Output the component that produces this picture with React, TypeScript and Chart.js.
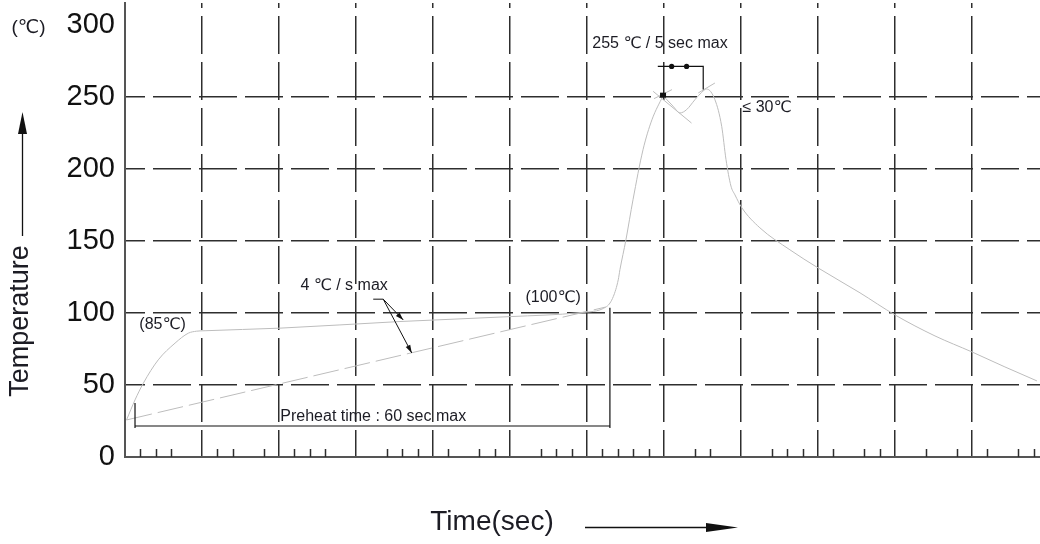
import React, { useEffect, useRef } from 'react';
import { Chart, registerables } from 'chart.js';

Chart.register(...registerables);

// ---- data (time in chart units: 5 units per major grid division) ----
const yTickValues = [0, 50, 100, 150, 200, 250, 300];
const xMajorTicks = [0, 5, 10, 15, 20, 25, 30, 35, 40, 45, 50, 55];
const xMinorTicks = [1, 2, 3, 6, 7, 9, 11, 12, 13, 17, 18, 19, 21, 23, 24, 27, 28, 29, 31, 32, 33, 34, 37, 38, 42, 43, 44, 46, 48, 49, 52, 54, 56, 58, 59];

// Reflow profile: preheat + ramp to first 250 point
const riseTime = [0.1, 0.65, 1.19, 2.16, 3.25, 4.11, 4.65, 5.2, 10.06, 17.86, 25.0, 29.55, 31.28, 31.71, 32.03, 32.14, 32.53, 32.99, 33.64, 34.22, 34.94];
const riseTemp = [25.7, 39.6, 51.2, 67.4, 79.0, 85.9, 87.3, 87.6, 89.4, 94.0, 97.4, 100.2, 104.4, 111.3, 122.9, 129.9, 150.7, 178.5, 213.2, 234.0, 250.7];
// Peak dip, peak and cooling
const coolTime = [34.94, 35.6, 36.04, 36.47, 37.01, 37.45, 37.77, 38.31, 38.75, 39.03, 39.35, 39.61, 40.06, 41.23, 43.18, 45.0, 47.73, 50.0, 52.6, 55.0, 57.14, 59.22];
const coolTemp = [250.7, 243.3, 238.7, 241.0, 247.9, 253.0, 255.3, 247.9, 229.4, 206.3, 188.0, 181.9, 172.9, 159.0, 143.75, 131.25, 113.9, 98.6, 84.0, 72.9, 62.5, 52.8];
// 4 °C/s max slope line
const slopeTime = [0.1, 31.2];
const slopeTemp = [25.7, 104.0];
// tangent guide lines near the peak
const tangentA = [{ x: 34.3, y: 253.7 }, { x: 36.79, y: 231.7 }];
const tangentB = [{ x: 34.35, y: 248.6 }, { x: 35.52, y: 254.9 }];
const tangentC = [{ x: 37.23, y: 252.6 }, { x: 38.31, y: 259.5 }];

// annotation anchors (data units)
const peakDot = { x: 34.94, y: 250.7 };
const peakBracket = { x0: 34.6, x1: 37.55, y: 271, yEnd: 254.9, dots: [35.5, 36.47] };
const preheatBracket = { x0: 0.65, x1: 31.49, y: 21.5, leftTop: 37.5, rightTop: 103.5, bottom: 20.1 };
const slopeLeader = { from: { x: 16.12, y: 109.5 }, knee: { x: 16.77, y: 109.5 }, tips: [{ x: 18.07, y: 95.1 }, { x: 18.62, y: 72.2 }] };
const labels = [
  { text: '4 \u2103 / s max', x: 14.23, y: 118.75 },
  { text: '(85\u2103)', x: 2.44, y: 91.7 },
  { text: '(100\u2103)', x: 27.8, y: 110.4 },
  { text: 'Preheat time : 60 sec max', x: 16.12, y: 28 },
  { text: '255 \u2103 / 5 sec max', x: 34.74, y: 286.8 },
  { text: '\u2264 30\u2103', x: 41.69, y: 242.4 },
];

const zip = (xs: number[], ys: number[]) => xs.map((x, i) => ({ x, y: ys[i] }));

const FONT = "'Liberation Sans', Arial, 'DejaVu Sans', sans-serif";
const TEXT = '#1c1c24';
const GRID = '#2e2e2e';
const CURVE = '#bdbdbd';

function arrowHead(ctx: CanvasRenderingContext2D, fx: number, fy: number, tx: number, ty: number, len: number, half: number) {
  const a = Math.atan2(ty - fy, tx - fx);
  const bx = tx - Math.cos(a) * len;
  const by = ty - Math.sin(a) * len;
  ctx.beginPath();
  ctx.moveTo(tx, ty);
  ctx.lineTo(bx + Math.sin(a) * half, by - Math.cos(a) * half);
  ctx.lineTo(bx - Math.sin(a) * half, by + Math.cos(a) * half);
  ctx.closePath();
  ctx.fill();
}

const overlay = {
  id: 'overlay',
  afterDraw(chart: any) {
    const { ctx, chartArea } = chart;
    const xs = chart.scales.x;
    const ys = chart.scales.y;
    const px = (v: number) => xs.getPixelForValue(v);
    const py = (v: number) => ys.getPixelForValue(v);
    ctx.save();

    // minor ticks on time axis
    ctx.strokeStyle = GRID;
    ctx.lineWidth = 1.5;
    ctx.setLineDash([]);
    xMinorTicks.forEach((t) => {
      const X = Math.round(px(t)) + 0.5;
      ctx.beginPath();
      ctx.moveTo(X, chartArea.bottom);
      ctx.lineTo(X, chartArea.bottom - 8);
      ctx.stroke();
    });

    // black annotation lines
    ctx.strokeStyle = '#111';
    ctx.fillStyle = '#111';
    ctx.lineWidth = 1.2;
    // preheat bracket
    const pb = preheatBracket;
    ctx.beginPath();
    ctx.moveTo(px(pb.x0), py(pb.leftTop));
    ctx.lineTo(px(pb.x0), py(pb.bottom));
    ctx.moveTo(px(pb.x0), py(pb.y));
    ctx.lineTo(px(pb.x1), py(pb.y));
    ctx.moveTo(px(pb.x1), py(pb.rightTop));
    ctx.lineTo(px(pb.x1), py(pb.bottom));
    ctx.stroke();

    // peak bracket
    const kb = peakBracket;
    ctx.beginPath();
    ctx.moveTo(px(kb.x0), py(kb.y));
    ctx.lineTo(px(kb.x1), py(kb.y));
    ctx.lineTo(px(kb.x1), py(kb.yEnd));
    ctx.stroke();
    kb.dots.forEach((d) => {
      ctx.beginPath();
      ctx.arc(px(d), py(kb.y), 2.6, 0, Math.PI * 2);
      ctx.fill();
    });
    // peak dot
    ctx.fillRect(px(peakDot.x) - 3, py(peakDot.y) - 3, 6, 5);

    // slope leader arrows
    const sl = slopeLeader;
    ctx.lineWidth = 1;
    ctx.beginPath();
    ctx.moveTo(px(sl.from.x), py(sl.from.y));
    ctx.lineTo(px(sl.knee.x), py(sl.knee.y));
    sl.tips.forEach((t) => {
      ctx.moveTo(px(sl.knee.x), py(sl.knee.y));
      ctx.lineTo(px(t.x), py(t.y));
    });
    ctx.stroke();
    sl.tips.forEach((t) => arrowHead(ctx, px(sl.knee.x), py(sl.knee.y), px(t.x), py(t.y), 8, 2.5));

    // annotation texts
    ctx.fillStyle = TEXT;
    ctx.font = `16px ${FONT}`;
    ctx.textAlign = 'center';
    ctx.textBaseline = 'middle';
    labels.forEach((l) => ctx.fillText(l.text, px(l.x), py(l.y)));

    // axis titles and arrows
    ctx.font = `19px ${FONT}`;
    ctx.fillText('(\u2103)', 28.5, 28);

    ctx.font = `28px ${FONT}`;
    ctx.fillText('Time(sec)', 492, 522);
    ctx.strokeStyle = '#111';
    ctx.fillStyle = '#111';
    ctx.lineWidth = 1.3;
    ctx.beginPath();
    ctx.moveTo(585, 527.5);
    ctx.lineTo(712, 527.5);
    ctx.stroke();
    arrowHead(ctx, 585, 527.5, 738, 527.5, 32, 4.5);

    ctx.save();
    ctx.translate(21, 321);
    ctx.rotate(-Math.PI / 2);
    ctx.fillStyle = TEXT;
    ctx.font = `27px ${FONT}`;
    ctx.fillText('Temperature', 0, 0);
    ctx.restore();
    ctx.beginPath();
    ctx.moveTo(22.5, 236);
    ctx.lineTo(22.5, 130);
    ctx.stroke();
    arrowHead(ctx, 22.5, 236, 22.5, 112, 22, 4.5);

    ctx.restore();
  },
};

export default function App() {
  const ref = useRef<HTMLCanvasElement | null>(null);
  useEffect(() => {
    document.body.style.margin = '0';
    const canvas = ref.current;
    if (!canvas) return;
    const thin = { type: 'line' as const, borderColor: CURVE, borderWidth: 1, pointRadius: 0, fill: false };
    const chart = new Chart(canvas, {
      type: 'line',
      data: {
        datasets: [
          { ...thin, label: 'rise', data: zip(riseTime, riseTemp), cubicInterpolationMode: 'monotone' },
          { ...thin, label: 'cool', data: zip(coolTime, coolTemp), cubicInterpolationMode: 'monotone' },
          { ...thin, label: 'slope', data: zip(slopeTime, slopeTemp), borderDash: [26, 6] },
          { ...thin, label: 'tA', data: tangentA },
          { ...thin, label: 'tB', data: tangentB },
          { ...thin, label: 'tC', data: tangentC },
        ],
      },
      options: {
        responsive: false,
        animation: false,
        devicePixelRatio: 1,
        layout: { padding: { top: 3, left: 0, right: 0, bottom: 0 } },
        plugins: { legend: { display: false }, tooltip: { enabled: false } },
        elements: { line: { borderWidth: 1 } },
        scales: {
          x: {
            type: 'linear',
            min: 0,
            max: 59.42,
            afterBuildTicks: (s: any) => { s.ticks = xMajorTicks.map((v) => ({ value: v })); },
            afterFit: (s: any) => { s.height = 87; s.paddingLeft = 0; s.paddingRight = 0; },
            ticks: { display: false },
            grid: {
              drawTicks: false,
              lineWidth: 1.5,
              color: (c: any) => (c.tick && c.tick.value === 0 ? 'rgba(0,0,0,0)' : GRID),
            },
            border: { display: true, color: '#555', width: 2, dash: [38, 8], dashOffset: 33 },
          },
          y: {
            type: 'linear',
            min: 0,
            max: 315,
            afterBuildTicks: (s: any) => { s.ticks = yTickValues.map((v) => ({ value: v })); },
            afterFit: (s: any) => { s.width = 125; s.paddingTop = 0; s.paddingBottom = 0; },
            ticks: { color: '#111', padding: 10, font: { size: 29, family: FONT } },
            grid: {
              drawTicks: false,
              lineWidth: 1.5,
              color: (c: any) => (c.tick && (c.tick.value === 0 || c.tick.value === 300) ? 'rgba(0,0,0,0)' : GRID),
            },
            border: { display: true, color: '#555', width: 2, dash: [38, 8], dashOffset: 19 },
          },
        },
      },
      plugins: [overlay],
    } as any);
    return () => chart.destroy();
  }, []);
  return <canvas ref={ref} width={1040} height={544} style={{ display: 'block' }} />;
}
